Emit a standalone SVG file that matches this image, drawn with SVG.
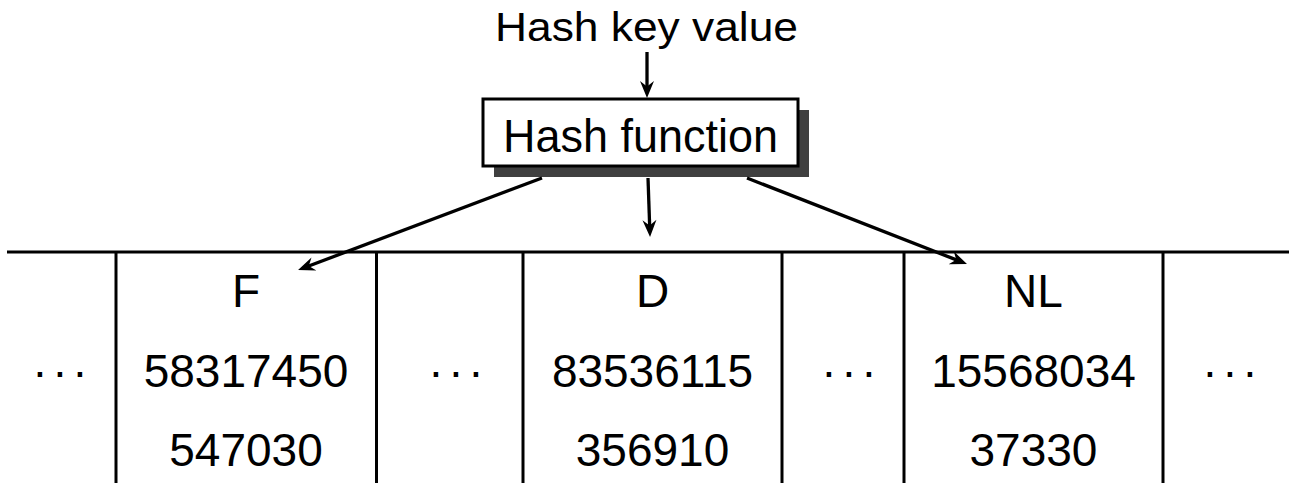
<svg xmlns="http://www.w3.org/2000/svg" width="1289" height="483" viewBox="0 0 1289 483">
  <style>
    text { font-family: "Liberation Sans", Arial, sans-serif; fill: #000; }
    .t { font-size: 46px; text-anchor: middle; }
    .grid { stroke: #000; stroke-width: 3; fill: none; }
    .conn { stroke: #000; stroke-width: 3.3; fill: none; marker-end: url(#arr); }
  </style>
  <defs>
    <marker id="arr" viewBox="-2 -9 22 18" markerWidth="22" markerHeight="18" refX="7" refY="0" orient="auto" markerUnits="userSpaceOnUse">
      <path d="M17,0 L0,-7 L5.5,0 L0,7 Z" fill="#000"/>
    </marker>
  </defs>
  <rect width="1289" height="483" fill="#fff"/>

  <g id="hash-key-value">
    <text x="646.5" y="41" font-size="40" text-anchor="middle" textLength="303" lengthAdjust="spacingAndGlyphs">Hash key value</text>
  </g>

  <g id="hash-function">
    <rect x="494" y="110" width="315" height="67" fill="#404040"/>
    <rect x="483" y="99" width="315" height="67" fill="#fff" stroke="#000" stroke-width="3"/>
    <text class="t" x="640.5" y="152" textLength="275" lengthAdjust="spacingAndGlyphs">Hash function</text>
  </g>

  <g id="table">
    <line class="grid" x1="7" y1="252" x2="1289" y2="252"/>
    <line class="grid" x1="116" y1="252" x2="116" y2="483"/>
    <line class="grid" x1="376.5" y1="252" x2="376.5" y2="483"/>
    <line class="grid" x1="523" y1="252" x2="523" y2="483"/>
    <line class="grid" x1="782" y1="252" x2="782" y2="483"/>
    <line class="grid" x1="904" y1="252" x2="904" y2="483"/>
    <line class="grid" x1="1163" y1="252" x2="1163" y2="483"/>
  </g>

  <g id="cell-dots-1"><text class="t" x="40 60 80" y="386.5">···</text></g>
  <g id="cell-F">
    <text class="t" x="246" y="307">F</text>
    <text class="t" x="246" y="386.5">58317450</text>
    <text class="t" x="246" y="466">547030</text>
  </g>
  <g id="cell-dots-2"><text class="t" x="436 456 476" y="386.5">···</text></g>
  <g id="cell-D">
    <text class="t" x="652.5" y="307">D</text>
    <text class="t" x="652.5" y="386.5">83536115</text>
    <text class="t" x="652.5" y="466">356910</text>
  </g>
  <g id="cell-dots-3"><text class="t" x="829 849 869" y="386.5">···</text></g>
  <g id="cell-NL">
    <text class="t" x="1033.5" y="307">NL</text>
    <text class="t" x="1033.5" y="386.5">15568034</text>
    <text class="t" x="1033.5" y="466">37330</text>
  </g>
  <g id="cell-dots-4"><text class="t" x="1210 1230 1250" y="386.5">···</text></g>

  <g id="connectors">
    <line class="conn" x1="647" y1="52" x2="647" y2="88"/>
    <line class="conn" x1="542" y1="178" x2="307.4" y2="266.5"/>
    <line class="conn" x1="648" y1="178" x2="649.7" y2="227"/>
    <line class="conn" x1="747" y1="178" x2="957.7" y2="260.4"/>
  </g>
</svg>
